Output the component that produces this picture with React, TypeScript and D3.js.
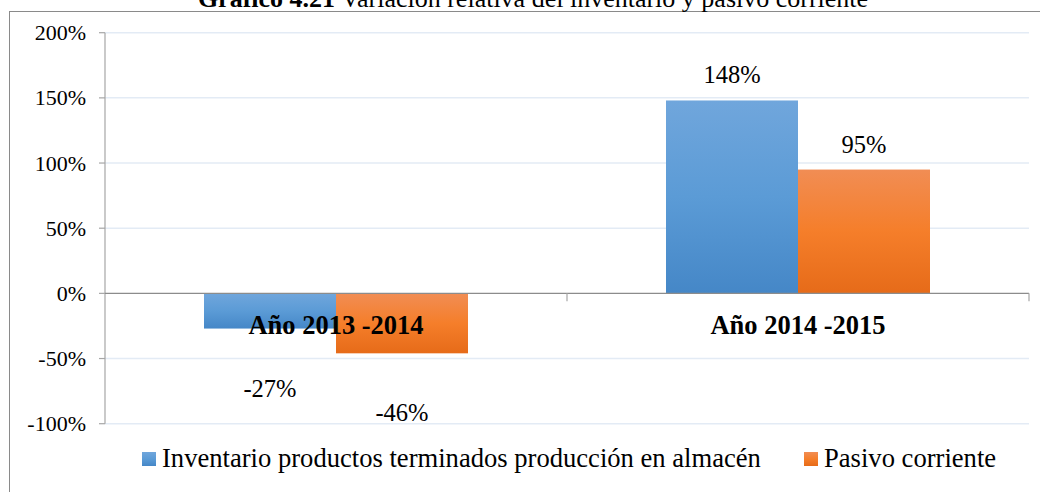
import React from "react";
import * as d3 from "d3";

const categories = ["Año 2013 -2014", "Año 2014 -2015"];
const seriesNames = ["Inventario productos terminados producción en almacén", "Pasivo corriente"];
const inventario = [-27, 148];
const pasivo = [-46, 95];
const yTicks = [-100, -50, 0, 50, 100, 150, 200];
const titleBold = "Gráfico 4.21";
const titleRest = " Variación relativa del inventario y pasivo corriente";

const W = 1040;
const H = 492;
const FONT = "Liberation Serif, Times New Roman, serif";

export default function App() {
  const left = 105;
  const right = 1029;
  const y = d3.scaleLinear().domain([-100, 200]).range([423.7, 32.7]);
  const x0 = d3.scaleBand().domain(categories).range([left, right]).paddingInner(0).paddingOuter(0);
  const inner = 264 / 462;
  const x1 = d3
    .scaleBand()
    .domain(["0", "1"])
    .range([(x0.bandwidth() * (1 - inner)) / 2, (x0.bandwidth() * (1 + inner)) / 2]);
  const series = [inventario, pasivo];
  const grads = ["gBlue", "gOrange"];
  const legendX = [142, 804];
  const ts = { fontFamily: FONT } as React.CSSProperties;

  return (
    <svg
      width={W}
      height={H}
      style={{ position: "absolute", left: 0, top: 0, background: "#fff", fontFamily: FONT }}
    >
      <defs>
        <linearGradient id="gBlue" x1="0" y1="0" x2="0" y2="1">
          <stop offset="0%" stopColor="#70a6dc" />
          <stop offset="50%" stopColor="#5b9bd6" />
          <stop offset="100%" stopColor="#4587c7" />
        </linearGradient>
        <linearGradient id="gOrange" x1="0" y1="0" x2="0" y2="1">
          <stop offset="0%" stopColor="#f18d54" />
          <stop offset="50%" stopColor="#f57e2a" />
          <stop offset="100%" stopColor="#e66b19" />
        </linearGradient>
      </defs>
      {/* chart border */}
      <rect x={9.5} y={11.5} width={1100} height={600} fill="none" stroke="#8a8a8a" strokeWidth={1} />
      {/* title */}
      <text x={533} y={7} textAnchor="middle" fontSize={26} fill="#000" style={ts}>
        <tspan fontWeight="bold">{titleBold}</tspan>
        <tspan>{titleRest}</tspan>
      </text>
      {/* gridlines */}
      {yTicks
        .filter((t) => t !== 0)
        .map((t) => (
          <line key={t} x1={left} x2={right} y1={y(t)} y2={y(t)} stroke="#e3ebf5" strokeWidth={1.5} />
        ))}
      {/* y axis */}
      <line x1={left} x2={left} y1={y(200)} y2={y(-100)} stroke="#a6a6a6" strokeWidth={1.2} />
      {yTicks.map((t) => (
        <g key={t}>
          <line x1={left - 6} x2={left} y1={y(t)} y2={y(t)} stroke="#a6a6a6" strokeWidth={1.2} />
          <text x={86} y={y(t) + 7.5} textAnchor="end" fontSize={22} fill="#000" style={ts}>
            {`${t}%`}
          </text>
        </g>
      ))}
      {/* bars */}
      {categories.map((c, i) =>
        series.map((s, j) => {
          const v = s[i];
          const bx = (x0(c) as number) + (x1(String(j)) as number);
          const top = Math.min(y(v), y(0));
          const h = Math.abs(y(v) - y(0));
          return <rect key={`${i}-${j}`} x={bx} y={top} width={x1.bandwidth()} height={h} fill={`url(#${grads[j]})`} />;
        })
      )}
      {/* zero axis */}
      <line x1={left} x2={right} y1={y(0)} y2={y(0)} stroke="#8c8c8c" strokeWidth={1.2} />
      {categories.map((c) => (x0(c) as number) + x0.bandwidth()).map((tx, k) => (
        <line key={k} x1={tx} x2={tx} y1={y(0)} y2={y(0) + 8} stroke="#a6a6a6" strokeWidth={1.2} />
      ))}
      {/* data labels */}
      {categories.map((c, i) =>
        series.map((s, j) => {
          const v = s[i];
          const cx = (x0(c) as number) + (x1(String(j)) as number) + x1.bandwidth() / 2;
          const ly = v >= 0 ? y(v) - 17 : y(v) + 68;
          return (
            <text key={`l${i}-${j}`} x={cx} y={ly} textAnchor="middle" fontSize={24.5} fill="#000" style={ts}>
              {`${v}%`}
            </text>
          );
        })
      )}
      {/* category labels */}
      {categories.map((c) => (
        <text
          key={c}
          x={(x0(c) as number) + x0.bandwidth() / 2}
          y={334}
          textAnchor="middle"
          fontSize={26.5}
          fontWeight="bold"
          fill="#000"
          style={ts}
        >
          {c}
        </text>
      ))}
      {/* legend */}
      {seriesNames.map((n, j) => (
        <g key={n}>
          <rect x={legendX[j]} y={452} width={14} height={14} fill={`url(#${grads[j]})`} />
          <text x={legendX[j] + 20} y={467} fontSize={26.6} fill="#000" style={ts}>
            {n}
          </text>
        </g>
      ))}
    </svg>
  );
}
